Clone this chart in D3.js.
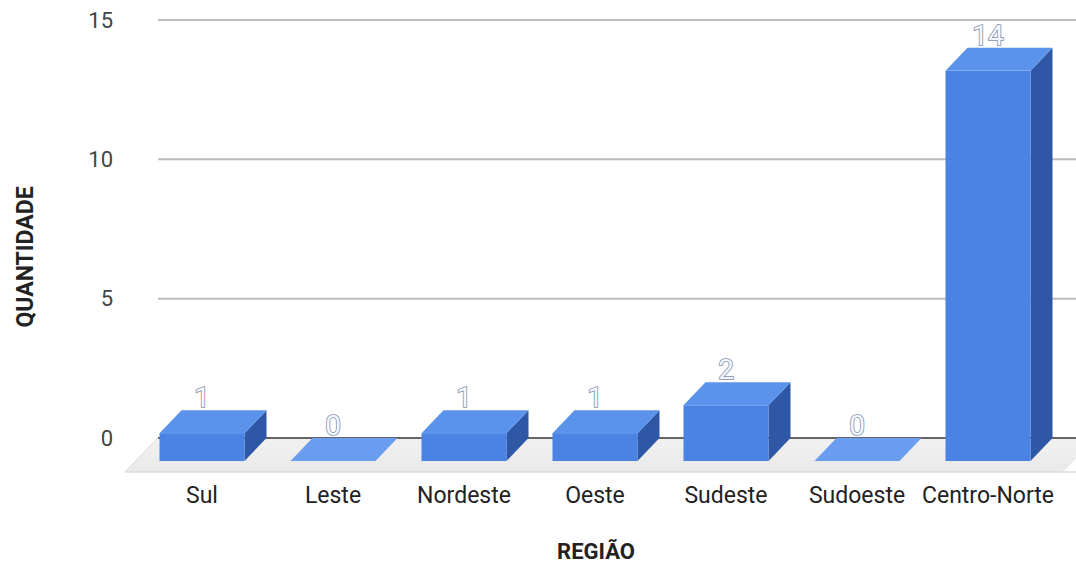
<!DOCTYPE html>
<html>
<head>
<meta charset="utf-8">
<script src="https://cdn.jsdelivr.net/npm/d3@7"></script>
<style>
  html, body { margin: 0; padding: 0; background: #fff; }
  svg { display: block; font-family: Roboto, "Noto Sans", sans-serif; }
</style>
</head>
<body>
<svg id="chart" width="1076" height="566"></svg>
<script>
const categories = ["Sul", "Leste", "Nordeste", "Oeste", "Sudeste", "Sudoeste", "Centro-Norte"];
const values = [1, 0, 1, 1, 2, 0, 14];
const yTicks = [0, 5, 10, 15];
const yTitle = "QUANTIDADE";
const xTitle = "REGIÃO";

const svg = d3.select("#chart");

// back-plane vertical scale
const y = d3.scaleLinear().domain([0, 15]).range([438, 20]);
// front-face horizontal band scale
const x = d3.scaleBand().domain(categories).range([136.5, 1053.5]).paddingInner(0.351).paddingOuter(0.1755);

const plotLeft = 158, plotRight = 1076;
const barDX = -22, barDY = 23;     // bar depth offset (back -> front)
const floorDX = -33, floorDY = 34; // floor depth

// defs
const defs = svg.append("defs");
const fg = defs.append("linearGradient").attr("id", "floorGrad").attr("x1", 0).attr("y1", 0).attr("x2", 0).attr("y2", 1);
fg.append("stop").attr("offset", "0%").attr("stop-color", "#f1f1f1");
fg.append("stop").attr("offset", "100%").attr("stop-color", "#e9e9e9");

// floor
const y0 = y(0);
svg.append("polygon")
  .attr("points", [
    [plotLeft, y0], [plotRight + 20, y0],
    [plotRight + 20 + floorDX, y0 + floorDY], [plotLeft + floorDX, y0 + floorDY]
  ].map(p => p.join(",")).join(" "))
  .attr("fill", "url(#floorGrad)");
svg.append("line")
  .attr("x1", plotLeft + floorDX).attr("x2", plotRight)
  .attr("y1", y0 + floorDY).attr("y2", y0 + floorDY)
  .attr("stroke", "#dcdcdc").attr("stroke-width", 1.5);
svg.append("line")
  .attr("x1", plotLeft).attr("y1", y0)
  .attr("x2", plotLeft + floorDX).attr("y2", y0 + floorDY)
  .attr("stroke", "#d6d6d6").attr("stroke-width", 1);

// gridlines
svg.append("g").selectAll("line").data(yTicks.filter(d => d !== 0)).join("line")
  .attr("x1", plotLeft).attr("x2", plotRight)
  .attr("y1", d => y(d)).attr("y2", d => y(d))
  .attr("stroke", "#bdbdbd").attr("stroke-width", 2);

// zero line
svg.append("line")
  .attr("x1", plotLeft).attr("x2", plotRight)
  .attr("y1", y0).attr("y2", y0)
  .attr("stroke", "#333").attr("stroke-width", 1.5);

// y tick labels
svg.append("g").selectAll("text").data(yTicks).join("text")
  .attr("x", 113).attr("y", d => y(d)).attr("dy", "0.35em")
  .attr("text-anchor", "end")
  .attr("font-size", 22).attr("fill", "#444")
  .text(d => d);

// bars
const bars = svg.append("g");
categories.forEach((c, i) => {
  const v = values[i];
  const fx0 = x(c), fx1 = x(c) + x.bandwidth();
  const bx0 = fx0 - barDX, bx1 = fx1 - barDX;
  const fyTop = y(v) + barDY, fyBot = y(0) + barDY;
  const byTop = y(v);
  const g = bars.append("g");
  if (v > 0) {
    g.append("polygon")
      .attr("points", [[fx1, fyTop], [bx1, byTop], [bx1, y(0)], [fx1, fyBot]].map(p => p.join(",")).join(" "))
      .attr("fill", "#2e58a6");
    g.append("rect")
      .attr("x", fx0).attr("y", fyTop).attr("width", fx1 - fx0).attr("height", fyBot - fyTop)
      .attr("fill", "#4a83e4");
    g.append("polygon")
      .attr("points", [[fx0, fyTop], [fx1, fyTop], [bx1, byTop], [bx0, byTop]].map(p => p.join(",")).join(" "))
      .attr("fill", "#5b93ec");
  } else {
    g.append("polygon")
      .attr("points", [[fx0, fyTop], [fx1, fyTop], [bx1, byTop], [bx0, byTop]].map(p => p.join(",")).join(" "))
      .attr("fill", "#6a9cf0");
  }
  // value label
  g.append("text")
    .attr("x", (fx0 + fx1) / 2).attr("y", y(v) - 3)
    .attr("text-anchor", "middle")
    .attr("font-size", 28)
    .attr("fill", "#f4f7fd").attr("stroke", "#7f8fae").attr("stroke-width", 1.6)
    .attr("paint-order", "stroke")
    .text(v);
});

// category labels
svg.append("g").selectAll("text").data(categories).join("text")
  .attr("x", d => x(d) + x.bandwidth() / 2).attr("y", 503)
  .attr("text-anchor", "middle")
  .attr("font-size", 23).attr("fill", "#222")
  .text(d => d);

// axis titles
svg.append("text")
  .attr("transform", "translate(33,257) rotate(-90)")
  .attr("text-anchor", "middle")
  .attr("font-size", 23).attr("font-weight", "bold").attr("fill", "#222")
  .text(yTitle);
svg.append("text")
  .attr("x", 596).attr("y", 559)
  .attr("text-anchor", "middle")
  .attr("font-size", 22).attr("font-weight", "bold").attr("fill", "#222")
  .text(xTitle);
</script>
</body>
</html>
